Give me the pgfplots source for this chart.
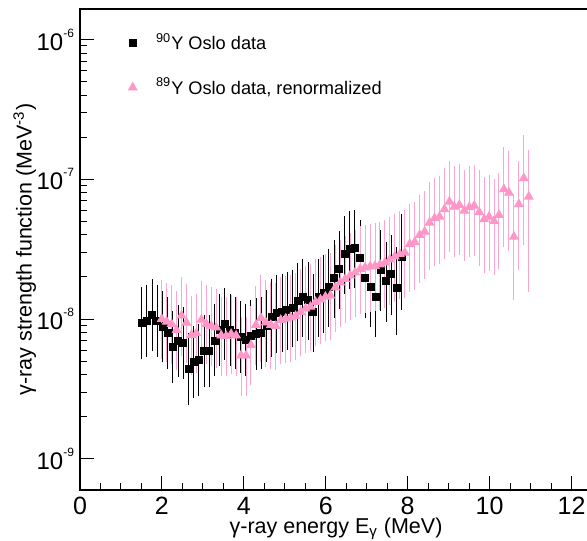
\documentclass[border=0pt]{standalone}
\usepackage{pgfplots}
\pgfplotsset{compat=1.18}
\usepackage{pgfplotstable}
\usepackage{fontspec}
\setmainfont{Liberation Sans}
\definecolor{ypink}{RGB}{255,150,200}
\definecolor{ypinkbar}{RGB}{255,165,210}
\newcommand{\sups}[1]{\raisebox{0.55em}{\fontsize{6}{6}\selectfont #1}}

% 90Y Oslo data: E (MeV), strength (MeV^-3), relative error plus, relative error minus
\pgfplotstableread{
E S ep em
1.506 9.32e-9 0.7225 0.4194
1.633 9.72e-9 0.7225 0.4194
1.760 1.063e-8 0.7225 0.4194
1.887 9.72e-9 0.7225 0.4194
2.014 8.84e-9 0.7225 0.4194
2.141 7.94e-9 0.7225 0.4194
2.268 6.33e-9 0.7225 0.4194
2.395 6.96e-9 0.7225 0.4194
2.522 6.73e-9 0.7225 0.4194
2.649 4.36e-9 0.7225 0.4194
2.776 4.90e-9 0.7225 0.4194
2.903 5.09e-9 0.7225 0.4194
3.030 5.90e-9 0.7225 0.4194
3.157 5.95e-9 0.7225 0.4194
3.284 7.02e-9 0.7225 0.4194
3.411 8.34e-9 0.7225 0.4194
3.538 9.21e-9 0.7225 0.4194
3.665 8.34e-9 0.7225 0.4194
3.792 7.94e-9 0.7225 0.4194
3.919 7.43e-9 0.7225 0.4194
4.046 7.08e-9 0.7225 0.4194
4.173 7.56e-9 0.7225 0.4194
4.300 7.81e-9 0.7225 0.4194
4.427 7.98e-9 0.7225 0.4194
4.554 8.91e-9 0.7225 0.4194
4.681 1.042e-8 0.780 0.4565
4.808 1.104e-8 0.780 0.4565
4.935 1.128e-8 0.780 0.4565
5.062 1.160e-8 0.780 0.4565
5.189 1.209e-8 0.780 0.4565
5.316 1.356e-8 0.780 0.4565
5.443 1.430e-8 0.780 0.4565
5.570 1.361e-8 0.780 0.4565
5.697 1.119e-8 0.780 0.4565
5.824 1.449e-8 0.780 0.4565
5.951 1.548e-8 0.780 0.4565
6.078 1.703e-8 0.780 0.4565
6.205 1.966e-8 0.780 0.4565
6.332 2.269e-8 0.780 0.4565
6.459 2.920e-8 0.780 0.4565
6.586 3.155e-8 0.780 0.4565
6.713 3.207e-8 0.780 0.4565
6.840 2.720e-8 0.780 0.4565
6.967 1.956e-8 0.780 0.4565
7.094 1.703e-8 0.780 0.4565
7.221 1.437e-8 0.780 0.4565
7.348 2.262e-8 0.8103 0.4656
7.475 1.880e-8 0.8103 0.4656
7.602 2.089e-8 0.8103 0.4656
7.729 1.677e-8 0.8711 0.5158
7.856 2.802e-8 0.9335 0.5614
}\blackdata

% 89Y Oslo data, renormalized
\pgfplotstableread{
E S ep em
1.995 1.000e-8 0.8103 0.4565
2.116 9.57e-9 0.8103 0.4565
2.237 9.21e-9 0.8103 0.4565
2.358 8.34e-9 0.8103 0.4565
2.479 1.059e-8 0.8103 0.4565
2.600 9.41e-9 0.8103 0.4565
2.721 7.68e-9 0.8103 0.4565
2.842 7.90e-9 0.8103 0.4565
2.964 9.89e-9 0.8103 0.4565
3.085 9.21e-9 0.8103 0.4565
3.206 8.91e-9 0.8103 0.4565
3.327 8.69e-9 0.8103 0.4565
3.448 7.62e-9 0.8103 0.4565
3.569 7.56e-9 0.8103 0.4565
3.690 7.81e-9 0.8103 0.4565
3.811 7.62e-9 0.8103 0.4565
3.932 5.48e-9 0.8103 0.4565
4.053 5.48e-9 0.8103 0.4565
4.174 6.51e-9 0.8103 0.4565
4.296 9.06e-9 0.8103 0.4565
4.417 1.017e-8 0.9335 0.4913
4.538 9.44e-9 0.9335 0.4913
4.659 9.06e-9 0.9335 0.4913
4.780 8.91e-9 0.9335 0.4913
4.901 9.84e-9 0.9335 0.4913
5.022 1.005e-8 0.9335 0.4913
5.143 1.025e-8 0.9335 0.4913
5.264 1.051e-8 0.9335 0.4913
5.385 1.122e-8 0.9335 0.4913
5.506 1.189e-8 0.9335 0.4913
5.628 1.225e-8 0.9335 0.4913
5.749 1.323e-8 0.9335 0.4913
5.870 1.379e-8 0.9335 0.4913
5.991 1.442e-8 0.9335 0.4913
6.112 1.473e-8 0.9335 0.4913
6.233 1.681e-8 0.9335 0.4913
6.354 1.825e-8 0.9335 0.4913
6.475 1.934e-8 0.9335 0.4913
6.596 2.048e-8 0.9335 0.4913
6.717 2.152e-8 0.9335 0.4913
6.839 2.280e-8 0.9335 0.4996
6.960 2.337e-8 0.9335 0.4996
7.081 2.376e-8 0.9335 0.4996
7.202 2.396e-8 0.9335 0.4996
7.323 2.456e-8 0.9335 0.4996
7.444 2.538e-8 0.9335 0.4996
7.565 2.666e-8 0.9335 0.4996
7.686 2.802e-8 0.9335 0.4996
7.807 2.920e-8 0.9335 0.4996
7.929 2.983e-8 0.9335 0.4996
8.050 3.443e-8 0.8553 0.5198
8.171 3.558e-8 0.8553 0.5198
8.292 3.993e-8 0.8553 0.5198
8.413 4.216e-8 0.8553 0.5198
8.534 4.890e-8 0.8553 0.5198
8.655 5.258e-8 0.8553 0.5198
8.776 5.398e-8 0.8553 0.5198
8.897 6.100e-8 0.8711 0.5391
9.018 6.914e-8 0.8711 0.5391
9.139 6.367e-8 0.8711 0.5391
9.261 6.548e-8 0.8711 0.5391
9.382 5.961e-8 0.8711 0.5391
9.503 6.305e-8 0.8711 0.5391
9.624 6.473e-8 0.8711 0.5391
9.745 5.806e-8 0.9018 0.5686
9.866 5.172e-8 0.9018 0.5686
9.987 5.398e-8 0.9018 0.5686
10.108 5.029e-8 0.9018 0.5686
10.229 5.552e-8 0.9018 0.5686
10.350 8.480e-8 0.9018 0.5962
10.472 8.018e-8 0.9018 0.5962
10.593 3.882e-8 0.914 0.6282
10.714 6.624e-8 0.9335 0.6425
10.835 1.017e-7 0.9335 0.6483
10.956 7.506e-8 1.0447 0.7826
}\pinkdata

\begin{document}
\begin{tikzpicture}
\begin{axis}[
  scale only axis,
  width=256pt, height=240.5pt,
  xmin=0, xmax=12.5,
  ymode=log, ymin=5.97e-10, ymax=1.656e-6,
  xtick={0,2,4,6,8,10,12},
  minor x tick num=3,
  ytick={1e-9,1e-8,1e-7,1e-6},
  yticklabels={10\sups{-9},10\sups{-8},10\sups{-7},10\sups{-6}},
  /pgf/number format/assume math mode=true,
  tick pos=left,
  tick align=inside,
  major tick length=7pt,
  minor tick length=3.5pt,
  every tick/.style={black, line width=0.5pt},
  axis line style={line width=0.6pt},
  xticklabel style={font=\fontsize{12.5}{12.5}\selectfont, inner sep=1pt, yshift=-2.2pt},
  yticklabel style={font=\fontsize{12}{12}\selectfont, inner sep=1pt, xshift=-1.8pt},
  every axis x label/.style={at={(axis description cs:0.5,-0.08)}, anchor=center, inner sep=1pt},
  every axis y label/.style={at={(axis description cs:-0.108,0.5)}, rotate=90, anchor=center, inner sep=1pt},
  label style={font=\fontsize{10.75}{12}\selectfont},
  xlabel={γ-ray energy E\textsubscript{γ} (MeV)},
  ylabel={γ-ray strength function (MeV\textsuperscript{-3})},
  legend style={draw=none, fill=none, at={(axis description cs:0.086,0.967)}, anchor=north west,
    font=\fontsize{9.1}{11.5}\selectfont, row sep=8.5pt, inner sep=2pt,
    /tikz/every odd column/.append style={column sep=7.5pt}},
  legend cell align=left,
]
\addplot[only marks, mark=square*, mark size=1.75pt, black,
  error bars/.cd, y dir=both, y explicit relative,
  error bar style={line width=0.5pt, black},
  error mark options={mark size=1.5pt, line width=0.5pt, black}]
  table[x=E, y=S, y error plus=ep, y error minus=em] {\blackdata};
\addlegendentry{\textsuperscript{90}Y Oslo data}
\addplot[only marks, mark=triangle*, mark size=2.5pt, color=ypink,
  error bars/.cd, y dir=both, y explicit relative,
  error bar style={line width=0.5pt, ypinkbar},
  error mark options={mark size=1.5pt, line width=0.5pt, ypinkbar}]
  table[x=E, y=S, y error plus=ep, y error minus=em] {\pinkdata};
\addlegendentry{\textsuperscript{89}Y Oslo data, renormalized}
\end{axis}
\pgfresetboundingbox
\path[use as bounding box] ([shift={(-40pt,-25pt)}]current axis.south west) rectangle ++(293.5pt,270pt);
\end{tikzpicture}
\end{document}
